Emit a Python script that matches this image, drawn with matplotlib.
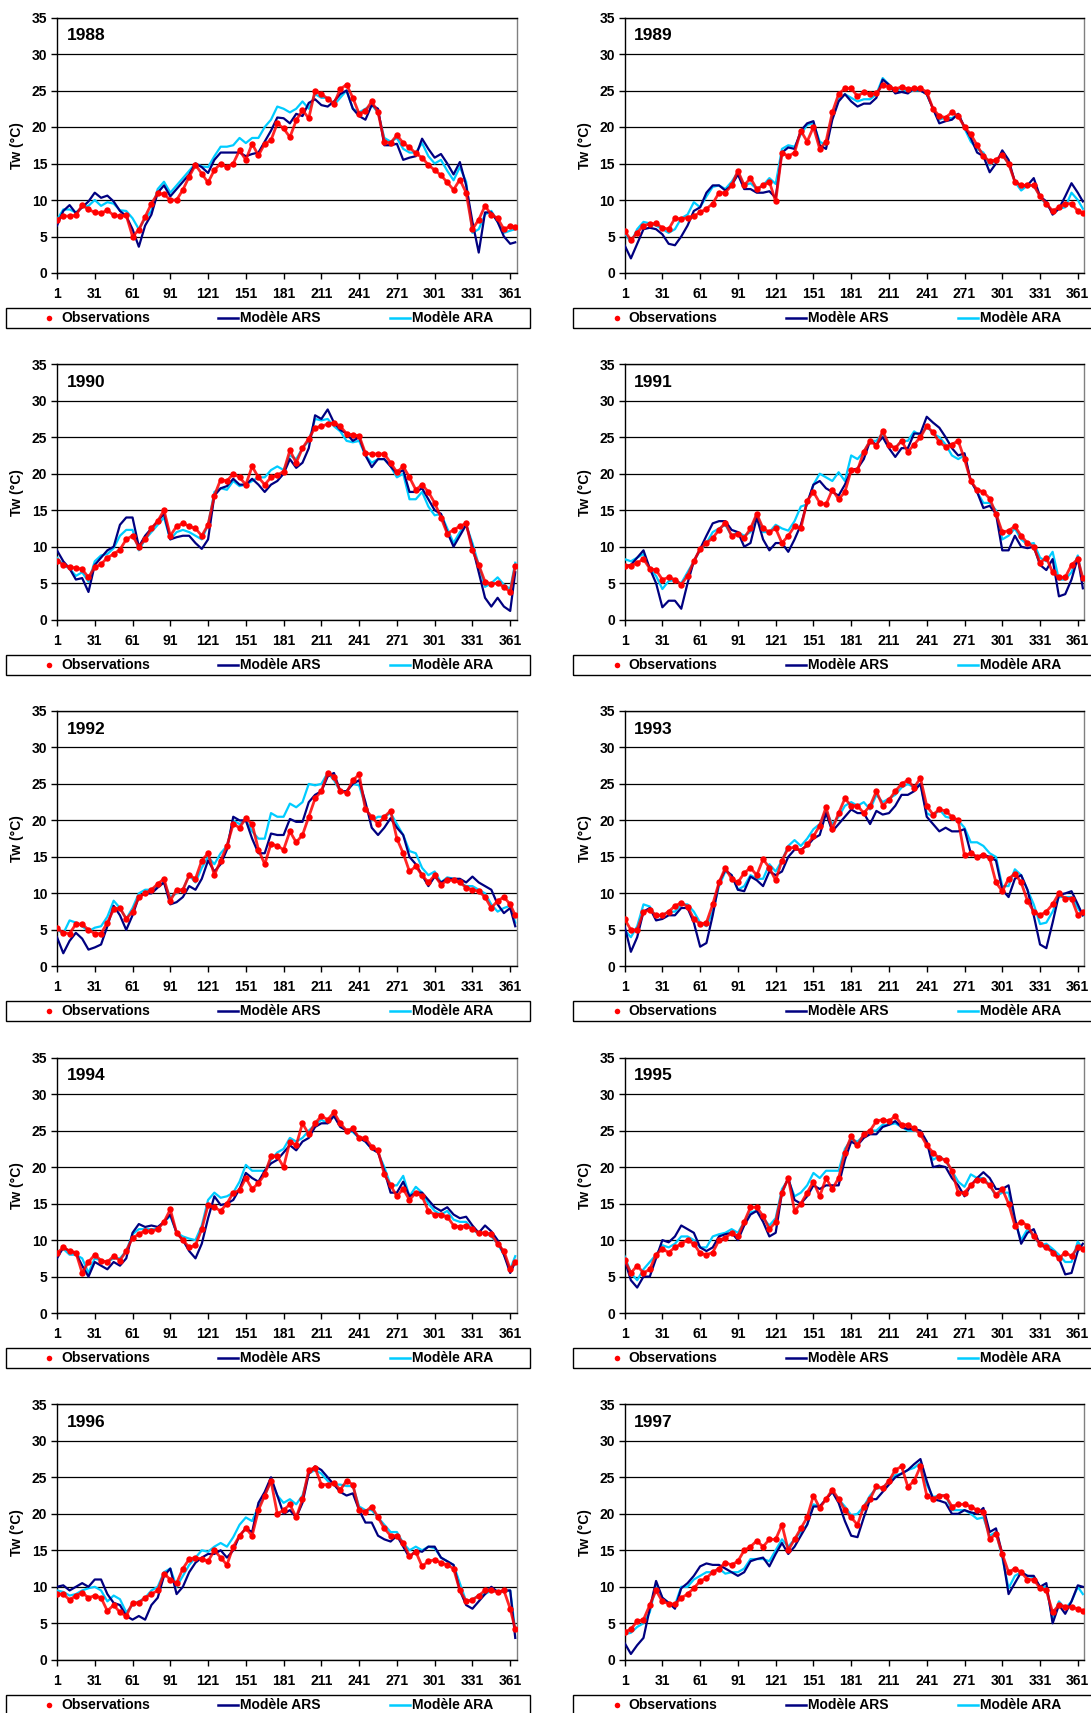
import matplotlib
matplotlib.use("Agg")
import matplotlib.pyplot as plt
from matplotlib.lines import Line2D
from matplotlib.patches import Rectangle

plt.rcParams['font.family'] = ['Liberation Sans', 'DejaVu Sans']
plt.rcParams['font.weight'] = 'bold'

# sampled days (every 5 days + last day)
days = list(range(1, 362, 5)) + [365]
xtick_days = list(range(1, 362, 30))
ytick_vals = list(range(0, 36, 5))
years = [1988, 1989, 1990, 1991, 1992, 1993, 1994, 1995, 1996, 1997]

obs_1988 = [7.3, 7.8, 7.8, 7.9, 9.3, 8.7, 8.3, 8.2, 8.6, 7.9,
            7.8, 7.9, 5.0, 5.9, 7.7, 9.5, 10.9, 10.8, 10.0, 10.0,
            11.4, 13.2, 14.8, 13.6, 12.4, 14.1, 15.0, 14.5, 15.0, 16.8,
            15.5, 17.7, 16.1, 17.7, 18.2, 20.5, 19.8, 18.6, 20.9, 22.3,
            21.2, 25.0, 24.5, 23.9, 23.2, 25.2, 25.8, 24.0, 21.8, 22.2,
            23.5, 22.0, 18.0, 17.8, 18.9, 17.8, 17.2, 16.4, 15.8, 14.8,
            14.1, 13.4, 12.4, 11.4, 12.8, 11.0, 6.0, 7.3, 9.2, 8.0,
            7.5, 6.0, 6.4, 6.3]
ars_1988 = [6.5, 8.5, 9.3, 8.2, 9.0, 9.8, 11.0, 10.3, 10.6, 9.8,
            8.5, 7.8, 6.0, 3.6, 6.5, 8.0, 11.0, 12.0, 10.5, 11.5,
            12.5, 13.5, 15.0, 14.5, 13.7, 15.5, 16.5, 16.5, 16.5, 16.5,
            16.0, 16.3, 16.5, 18.0, 19.5, 21.3, 21.2, 20.5, 21.8, 21.5,
            23.3, 23.8, 23.0, 22.8, 23.5, 24.5, 25.0, 22.5, 21.5, 21.0,
            23.0, 22.5, 17.5, 17.5, 17.7, 15.5, 15.8, 16.0, 18.4, 17.0,
            15.8, 16.3, 15.0, 13.5, 15.2, 12.0, 7.0, 2.8, 8.3, 8.3,
            7.0, 5.0, 4.0, 4.2]
ara_1988 = [7.3, 8.7, 8.7, 8.3, 9.0, 9.2, 10.0, 9.2, 9.7, 9.5,
            8.6, 8.5, 7.5, 6.0, 7.5, 8.5, 11.5, 12.5, 11.0, 12.0,
            13.0, 14.0, 15.0, 14.6, 14.5, 16.0, 17.3, 17.3, 17.5, 18.5,
            17.8, 18.5, 18.5, 20.0, 21.0, 22.8, 22.5, 22.0, 22.5, 23.5,
            22.5, 24.5, 24.0, 24.0, 23.0, 24.0, 25.0, 22.5, 22.0, 22.5,
            23.0, 22.0, 18.5, 18.0, 18.5, 17.0, 16.5, 16.5, 17.8, 16.0,
            15.0, 15.5, 14.0, 12.7, 14.5, 12.5, 5.5, 6.0, 8.0, 8.5,
            7.0, 5.5, 5.8, 6.0]

obs_1989 = [5.8, 4.5, 5.5, 6.5, 6.7, 6.8, 6.2, 6.0, 7.5, 7.4,
            7.6, 7.8, 8.3, 8.8, 9.5, 11.0, 11.0, 12.0, 14.0, 12.0,
            13.0, 11.5, 12.0, 12.5, 9.8, 16.5, 16.0, 16.5, 19.5, 18.0,
            20.0, 17.0, 18.0, 22.0, 24.5, 25.3, 25.3, 24.2, 24.8, 24.5,
            24.6, 25.8, 25.5, 25.2, 25.5, 25.2, 25.3, 25.3, 24.8, 22.5,
            21.5, 21.3, 22.0, 21.5, 20.0, 19.0, 17.5, 16.0, 15.3, 15.5,
            16.2, 15.0, 12.5, 12.0, 12.0, 12.0, 10.5, 9.5, 8.5, 9.0,
            9.5, 9.5, 8.5, 8.2]
ars_1989 = [3.8, 2.0, 4.0, 6.0, 6.2, 6.0, 5.3, 4.0, 3.8, 5.0,
            6.5, 8.5, 9.0, 11.0, 12.0, 12.0, 11.3, 12.0, 13.5, 11.5,
            11.5, 11.0, 11.0, 11.2, 10.3, 16.5, 17.2, 17.0, 19.5, 20.5,
            20.8, 17.5, 17.0, 21.0, 23.5, 24.5, 23.5, 22.8, 23.2, 23.2,
            24.0, 26.5, 25.8, 24.6, 24.8, 24.6, 25.3, 25.0, 24.5, 22.5,
            20.5, 20.8, 21.0, 21.8, 20.0, 18.5, 16.5, 16.0, 13.8, 15.0,
            16.8, 15.5, 12.5, 12.0, 12.0, 13.0, 10.5, 9.8, 8.0, 8.8,
            10.5, 12.3, 11.0, 9.8]
ara_1989 = [5.5, 4.2, 6.0, 7.0, 6.8, 6.5, 6.0, 5.5, 6.0, 7.5,
            8.0, 9.7, 9.0, 10.5, 11.8, 12.0, 11.5, 12.5, 13.8, 12.0,
            12.3, 11.5, 12.0, 13.0, 12.2, 17.0, 17.5, 17.3, 19.0, 20.3,
            20.5, 18.0, 17.5, 21.5, 23.8, 24.5, 24.0, 23.5, 23.8, 23.8,
            24.5, 26.7, 25.8, 25.0, 25.2, 24.8, 25.0, 25.0, 24.5, 22.5,
            21.0, 21.3, 21.2, 21.8, 19.8, 18.0, 17.0, 16.5, 14.8, 15.5,
            16.2, 15.0, 12.5, 11.3, 12.0, 12.0, 10.5, 9.3, 8.5, 8.8,
            9.0, 11.0, 10.0, 8.8]

obs_1990 = [8.1, 7.5, 7.2, 7.1, 6.9, 5.8, 7.2, 7.6, 8.5, 9.0,
            9.6, 11.0, 11.5, 10.0, 11.0, 12.5, 13.5, 15.0, 11.5, 12.8,
            13.2, 12.8, 12.5, 11.5, 13.0, 17.0, 19.2, 19.0, 20.0, 19.5,
            18.5, 21.0, 19.5, 18.5, 19.5, 19.8, 20.3, 23.2, 21.5, 23.5,
            24.8, 26.3, 26.5, 26.8, 27.0, 26.5, 25.5, 25.3, 25.2, 22.8,
            22.7, 22.7, 22.7, 21.5, 20.2, 21.0, 19.5, 17.8, 18.5, 17.5,
            16.0, 14.0, 11.8, 12.3, 12.8, 13.2, 9.5, 7.5, 5.2, 4.9,
            5.0, 4.5, 3.8, 7.3]
ars_1990 = [9.5, 8.0, 7.0, 5.5, 5.7, 3.8, 7.5, 8.5, 9.5, 10.0,
            13.0, 14.0, 14.0, 10.0, 11.5, 12.5, 13.5, 14.5, 11.0, 11.3,
            11.5, 11.5, 10.5, 9.7, 11.0, 17.0, 18.0, 18.3, 19.3, 18.5,
            18.5, 19.3, 18.5, 17.5, 18.5, 19.0, 20.0, 22.0, 20.8, 21.5,
            23.5, 28.0, 27.5, 28.8, 27.0, 26.0, 25.5, 24.5, 25.0, 22.5,
            20.9, 22.0, 22.0, 21.0, 20.0, 20.5, 17.5, 17.5, 18.0, 16.5,
            15.0, 14.5, 12.0, 10.0, 11.5, 13.0, 10.0, 6.5, 3.0, 1.8,
            3.0, 1.8, 1.2, 6.5]
ara_1990 = [8.5, 7.5, 7.0, 6.0, 6.5, 5.2, 8.0, 8.8, 9.0, 9.8,
            11.5, 12.3, 12.3, 9.5, 11.0, 12.0, 13.0, 14.0, 11.0, 12.0,
            12.3, 12.0, 11.5, 11.0, 13.0, 17.5, 18.0, 17.8, 19.0, 18.3,
            18.5, 19.0, 19.5, 19.5, 20.5, 21.0, 20.5, 22.5, 22.0, 23.5,
            24.5, 27.5, 27.3, 27.5, 26.5, 25.8, 24.5, 24.3, 24.5, 22.5,
            21.5, 22.0, 22.0, 21.0, 19.5, 20.0, 16.5, 16.5, 17.5, 15.5,
            14.3, 14.5, 12.5, 10.5, 12.0, 13.0, 10.5, 7.5, 4.5, 5.0,
            5.8, 4.8, 4.2, 7.8]

obs_1991 = [7.3, 7.4, 7.8, 8.3, 7.0, 6.8, 5.5, 5.8, 5.5, 4.8,
            6.0, 8.0, 9.7, 10.5, 11.2, 12.3, 13.3, 11.5, 11.8, 11.2,
            12.5, 14.5, 12.5, 12.0, 12.5, 10.5, 11.5, 12.8, 12.5, 16.3,
            17.5, 16.0, 15.8, 17.8, 16.5, 17.5, 20.5, 20.5, 23.0, 24.5,
            23.8, 25.8, 24.0, 23.5, 24.5, 23.0, 24.0, 25.0, 26.5, 25.7,
            24.3, 23.7, 24.0, 24.5, 22.0, 19.0, 17.8, 17.5, 16.6, 14.5,
            12.0, 12.2, 12.8, 11.5, 10.5, 10.0, 7.8, 8.5, 6.5, 5.8,
            5.8, 7.5, 8.3, 5.7]
ars_1991 = [7.3, 7.5, 8.5, 9.5, 7.0, 5.0, 1.7, 2.6, 2.6, 1.5,
            5.0, 8.0, 9.7, 11.5, 13.2, 13.5, 13.5, 12.3, 12.0, 10.0,
            10.5, 14.0, 11.0, 9.5, 10.5, 10.5, 9.3, 11.0, 13.0, 16.0,
            18.5, 19.0, 18.0, 17.5, 17.0, 18.5, 20.5, 20.7, 22.0, 24.5,
            24.0, 25.0, 23.5, 22.3, 23.5, 23.5, 25.5, 25.5, 27.8, 27.0,
            26.3, 25.0, 23.5, 22.5, 22.8, 19.0, 17.5, 15.3, 15.6, 14.5,
            9.5, 9.5, 11.5, 10.0, 9.8, 10.0, 7.5, 6.8, 8.3, 3.2,
            3.5, 5.5, 8.5, 4.3]
ara_1991 = [8.3, 8.0, 8.5, 9.0, 7.0, 6.0, 4.2, 5.3, 5.4, 5.0,
            6.5, 8.0, 9.5, 10.5, 12.0, 12.5, 13.0, 11.5, 12.0, 11.5,
            12.0, 14.5, 12.0, 12.0, 13.0, 12.5, 12.2, 13.5, 15.5, 15.8,
            18.5, 20.0, 19.5, 19.0, 20.2, 19.0, 22.5, 22.0, 23.0, 24.5,
            24.5, 25.5, 24.0, 23.5, 24.5, 24.5, 25.8, 25.2, 26.5, 25.5,
            25.0, 24.0, 22.5, 22.0, 22.5, 19.0, 17.5, 16.0, 16.0, 15.0,
            11.0, 11.5, 12.5, 11.0, 10.3, 10.5, 8.5, 8.0, 9.3, 5.5,
            5.5, 6.5, 8.8, 5.3]

obs_1992 = [5.2, 4.6, 4.5, 5.8, 5.8, 5.0, 4.5, 4.5, 6.0, 7.8,
            8.0, 6.5, 7.5, 9.5, 10.0, 10.5, 11.3, 12.0, 9.0, 10.5,
            10.5, 12.5, 12.0, 14.5, 15.5, 12.5, 14.5, 16.5, 19.5, 19.0,
            20.3, 19.5, 16.0, 14.0, 16.8, 16.5, 16.0, 18.5, 17.0, 18.0,
            20.5, 23.0, 24.0, 26.5, 26.0, 24.0, 23.8, 25.5, 26.3, 21.5,
            20.5, 19.5, 20.5, 21.3, 17.5, 15.5, 13.0, 13.7, 12.5, 11.5,
            12.5, 11.2, 11.8, 11.8, 11.5, 10.8, 10.5, 10.3, 9.5, 8.0,
            9.0, 9.5, 8.5, 7.0]
ars_1992 = [4.0, 1.8, 3.5, 4.6, 3.8, 2.3, 2.6, 3.0, 5.5, 8.3,
            7.0, 5.0, 7.0, 9.5, 10.0, 10.0, 10.8, 11.5, 8.5, 8.8,
            9.5, 11.0, 10.5, 12.0, 14.5, 13.0, 14.0, 16.0, 20.5, 20.0,
            20.0, 17.5, 15.5, 15.5, 18.2, 18.0, 18.0, 20.2, 19.8, 19.8,
            22.5, 23.5, 24.0, 26.0, 26.5, 24.0, 24.0, 25.0, 25.5, 22.5,
            19.0, 18.0, 19.0, 20.3, 19.0, 18.0, 15.0, 14.0, 12.5, 11.0,
            12.3, 11.5, 12.0, 12.0, 12.0, 11.5, 12.3, 11.5, 11.0, 10.5,
            8.5, 7.3, 8.0, 5.5]
ara_1992 = [5.0, 4.5, 6.3, 6.0, 5.5, 4.8, 5.3, 5.5, 6.8, 9.0,
            8.0, 6.5, 8.0, 10.0, 10.5, 10.5, 11.0, 11.5, 9.5, 10.0,
            10.5, 12.5, 11.5, 13.5, 15.0, 14.0, 15.5, 16.5, 20.0, 19.5,
            20.0, 18.5, 17.5, 17.5, 21.0, 20.5, 20.5, 22.3, 21.8, 22.5,
            25.0, 24.8, 25.0, 26.5, 25.5, 24.0, 24.0, 25.0, 24.8, 22.0,
            20.0, 20.5, 20.5, 21.0, 19.5, 18.0, 15.8, 15.5, 13.5, 12.5,
            13.0, 11.5, 12.2, 12.0, 11.5, 11.0, 11.0, 10.5, 10.0, 8.5,
            7.5, 8.0, 8.3, 6.0]

obs_1993 = [6.5, 5.0, 5.0, 7.5, 7.7, 7.0, 7.0, 7.5, 8.3, 8.7,
            8.2, 6.5, 5.8, 6.0, 8.5, 11.5, 13.5, 12.0, 11.5, 12.8,
            13.5, 12.5, 14.7, 13.5, 11.8, 14.5, 16.2, 16.3, 15.8, 16.7,
            17.8, 19.3, 21.8, 18.8, 21.0, 23.0, 22.0, 22.0, 21.0, 22.0,
            24.0, 22.0, 22.8, 24.0, 25.0, 25.5, 24.5, 25.8, 22.0, 20.8,
            21.5, 21.3, 20.5, 20.0, 15.2, 15.5, 15.0, 15.3, 14.8, 11.5,
            10.3, 12.0, 12.7, 11.5, 9.0, 7.5, 7.0, 7.5, 8.5, 10.0,
            9.3, 9.3, 7.0, 7.5]
ars_1993 = [5.5, 2.0, 4.0, 7.5, 8.0, 6.3, 6.5, 7.0, 7.0, 8.0,
            8.0, 6.0, 2.7, 3.2, 7.0, 11.5, 13.2, 12.5, 10.5, 10.3,
            12.3, 11.8, 11.0, 13.0, 12.5, 13.0, 15.0, 16.0, 16.0, 16.5,
            17.5, 18.0, 21.0, 18.5, 19.5, 20.5, 21.5, 21.0, 21.0, 19.5,
            21.3, 20.8, 21.0, 22.0, 23.5, 23.5, 24.0, 25.0, 20.5, 19.5,
            18.5, 19.0, 18.5, 18.5, 18.8, 15.5, 15.0, 15.3, 15.0, 14.5,
            10.5, 9.5, 12.0, 12.5, 10.5, 7.0, 3.0, 2.5, 6.0, 9.8,
            10.0, 10.3, 8.5, 7.0]
ara_1993 = [5.0, 4.0, 5.5, 8.5, 8.2, 6.8, 7.0, 7.5, 7.5, 8.5,
            8.5, 7.5, 6.0, 5.5, 7.5, 11.0, 13.0, 12.5, 10.5, 11.0,
            12.5, 12.0, 12.0, 14.0, 13.0, 14.5, 16.5, 17.3, 16.5, 17.5,
            18.8, 19.5, 21.3, 19.5, 20.5, 22.0, 22.5, 22.0, 22.5, 21.5,
            23.5, 22.5, 23.0, 23.5, 24.5, 25.0, 24.5, 25.0, 21.0, 20.5,
            21.5, 20.5, 20.3, 20.0, 19.0, 17.0, 17.0, 16.5, 15.5, 15.0,
            11.0, 11.0, 13.3, 12.5, 10.5, 8.5, 5.8, 6.0, 7.5, 9.5,
            9.5, 9.5, 8.0, 7.0]

obs_1994 = [8.2, 9.0, 8.5, 8.3, 5.5, 7.0, 8.0, 7.2, 7.0, 7.8,
            7.2, 8.5, 10.3, 10.8, 11.3, 11.2, 11.5, 12.5, 14.2, 11.0,
            10.0, 9.0, 9.3, 11.5, 14.8, 14.5, 14.0, 15.0, 16.5, 16.8,
            18.5, 17.0, 17.8, 19.0, 21.5, 21.5, 20.0, 23.5, 23.0, 26.0,
            24.5, 26.0, 27.0, 26.5, 27.5, 26.0, 25.0, 25.3, 24.0, 24.0,
            22.8, 22.3, 19.0, 17.5, 16.0, 17.0, 15.5, 16.5, 16.0, 14.0,
            13.5, 13.5, 13.2, 12.0, 11.8, 12.0, 11.5, 11.0, 11.0, 10.8,
            9.5, 8.5, 6.0, 7.0]
ars_1994 = [7.5, 9.0, 8.5, 8.2, 6.5, 5.0, 7.0, 6.5, 6.0, 7.0,
            6.5, 7.5, 11.0, 12.2, 11.8, 12.0, 11.8, 12.5, 13.5, 11.0,
            10.0, 8.5, 7.5, 9.5, 13.0, 16.0, 14.8, 15.0, 15.5, 17.0,
            19.2, 18.5, 18.0, 19.5, 20.5, 21.0, 22.0, 23.0, 22.3, 23.5,
            24.0, 25.5, 26.0, 26.0, 27.0, 25.5, 25.0, 25.0, 24.0, 23.5,
            22.5, 22.0, 19.5, 16.5, 16.5, 18.0, 16.0, 16.5, 16.5, 15.5,
            14.5, 14.0, 14.5, 13.5, 13.0, 13.2, 12.0, 11.0, 12.0, 11.2,
            10.0, 8.0, 5.5, 7.0]
ara_1994 = [8.0, 8.8, 8.0, 8.0, 7.5, 5.5, 7.5, 7.2, 7.0, 7.5,
            7.5, 8.5, 10.8, 11.5, 11.5, 11.5, 11.5, 12.5, 13.3, 11.0,
            10.5, 10.2, 10.0, 12.0, 15.5, 16.5, 15.8, 16.0, 16.5, 18.0,
            20.3, 19.5, 19.5, 19.5, 21.0, 22.0, 22.5, 24.0, 23.5, 24.0,
            25.0, 25.8, 26.5, 26.0, 27.0, 25.8, 25.0, 24.8, 24.0, 23.5,
            22.5, 22.0, 20.0, 17.5, 17.5, 18.8, 16.0, 17.3, 16.5, 15.0,
            14.0, 13.5, 14.0, 12.8, 12.5, 12.5, 11.5, 10.8, 11.0, 10.5,
            9.5, 8.0, 6.0, 7.8]

obs_1995 = [7.3, 5.5, 6.5, 5.5, 6.0, 8.0, 8.8, 8.3, 9.0, 9.5,
            10.0, 9.5, 8.2, 8.0, 8.3, 10.0, 10.3, 11.0, 10.5, 12.5,
            14.5, 14.5, 13.3, 11.5, 12.5, 16.5, 18.5, 14.0, 15.0, 16.5,
            18.0, 16.0, 18.5, 17.0, 18.5, 22.0, 24.2, 23.0, 24.5, 25.0,
            26.3, 26.5, 26.3, 27.0, 25.8, 25.8, 25.3, 24.5, 23.0, 22.0,
            21.2, 21.0, 19.5, 16.5, 16.5, 17.5, 18.3, 18.2, 17.5, 16.2,
            17.0, 15.0, 12.0, 12.5, 12.0, 10.5, 9.5, 9.0, 8.3, 7.5,
            8.3, 7.8, 9.0, 8.8]
ars_1995 = [7.3, 4.5, 3.5, 5.0, 5.0, 7.5, 10.0, 9.7, 10.5, 12.0,
            11.5, 11.0, 9.0, 8.5, 9.0, 10.5, 10.8, 11.0, 10.0, 12.0,
            13.5, 14.0, 12.5, 10.5, 11.0, 16.5, 18.5, 15.5, 15.0, 16.0,
            17.5, 17.0, 17.5, 17.5, 17.5, 21.0, 23.5, 23.0, 24.0, 24.5,
            24.5, 25.5, 25.8, 26.3, 25.5, 25.2, 25.2, 25.0, 23.5, 20.0,
            20.2, 20.0, 18.5, 17.5, 16.0, 17.5, 18.5, 19.3, 18.5, 17.0,
            17.0, 17.5, 13.0, 9.5, 11.0, 11.5, 9.3, 9.0, 8.5, 7.5,
            5.3, 5.5, 8.5, 9.5]
ara_1995 = [7.8, 5.5, 4.5, 6.0, 7.0, 8.0, 9.3, 9.0, 9.5, 10.5,
            10.5, 10.0, 9.0, 9.0, 10.5, 10.8, 11.0, 11.5, 11.0, 12.5,
            13.8, 14.0, 13.0, 12.0, 13.0, 17.0, 18.3, 16.0, 16.5, 17.5,
            19.2, 18.5, 19.5, 19.5, 19.5, 22.5, 23.8, 23.5, 24.3, 25.0,
            25.0, 25.8, 25.8, 26.0, 25.5, 25.0, 25.0, 24.8, 23.3, 21.0,
            21.5, 20.8, 19.5, 18.0, 17.3, 19.0, 18.5, 18.5, 17.5, 16.0,
            16.5, 16.5, 12.5, 10.0, 11.5, 10.5, 9.3, 9.5, 8.8, 8.0,
            7.0, 7.0, 9.8, 8.8]

obs_1996 = [9.0, 9.0, 8.2, 8.8, 9.2, 8.5, 8.8, 8.5, 6.7, 7.5,
            6.5, 6.0, 7.8, 7.8, 8.5, 9.0, 9.5, 11.8, 11.0, 10.5,
            12.5, 13.8, 14.0, 13.8, 13.5, 15.0, 14.0, 13.0, 15.5, 17.0,
            18.0, 17.0, 20.5, 22.5, 24.5, 20.0, 20.5, 21.3, 19.5, 22.0,
            26.0, 26.3, 24.0, 24.0, 24.2, 23.3, 24.5, 24.0, 20.5, 20.3,
            21.0, 19.5, 18.0, 17.0, 17.0, 16.0, 14.2, 14.8, 12.8, 13.5,
            13.7, 13.3, 13.0, 12.5, 9.5, 8.0, 8.2, 8.8, 9.5, 9.5,
            9.3, 9.5, 7.0, 4.2]
ars_1996 = [10.0, 10.2, 9.5, 10.0, 10.5, 10.0, 11.0, 11.0, 9.0, 7.8,
            7.5, 6.0, 5.5, 6.0, 5.5, 7.5, 8.5, 11.5, 12.5, 9.0,
            10.0, 12.0, 13.3, 14.0, 14.5, 14.5, 15.0, 14.0, 15.0, 17.0,
            18.0, 17.5, 21.5, 23.0, 25.0, 22.5, 20.0, 20.5, 19.5, 21.5,
            25.5, 26.5, 26.0, 25.0, 24.0, 23.0, 22.5, 22.8, 20.5, 18.8,
            18.8, 17.0, 16.5, 16.2, 17.0, 15.5, 14.0, 15.0, 14.8, 15.5,
            15.5, 14.0, 13.5, 13.0, 9.5, 7.5, 7.0, 8.0, 9.0, 10.0,
            9.3, 9.5, 9.5, 3.0]
ara_1996 = [9.5, 9.3, 8.8, 9.0, 9.5, 9.8, 10.0, 9.5, 8.0, 8.8,
            8.3, 6.5, 7.5, 8.0, 8.5, 9.5, 10.0, 12.0, 12.5, 10.0,
            11.5, 13.0, 14.0, 15.0, 14.8, 15.5, 16.0, 15.5, 16.8, 18.5,
            19.5, 19.0, 21.0, 22.5, 24.5, 22.5, 21.5, 22.0, 21.3, 22.5,
            25.5, 26.0, 25.5, 24.5, 24.0, 24.0, 23.8, 23.8, 21.0, 20.5,
            20.5, 19.5, 18.5, 17.5, 17.5, 16.0, 15.0, 15.5, 15.0, 15.5,
            15.3, 14.0, 13.5, 13.0, 10.5, 8.0, 8.3, 8.8, 9.0, 9.5,
            9.3, 9.3, 9.5, 4.0]

obs_1997 = [3.8, 4.2, 5.3, 5.5, 7.5, 9.5, 8.0, 7.7, 7.6, 8.5,
            9.0, 9.8, 10.8, 11.2, 12.0, 12.5, 13.3, 13.0, 13.5, 15.0,
            15.5, 16.3, 15.5, 16.5, 16.5, 18.5, 15.0, 16.5, 18.0, 19.5,
            22.5, 20.8, 22.0, 23.3, 22.0, 20.5, 19.5, 18.5, 21.0, 22.0,
            23.8, 23.5, 24.5, 26.0, 26.5, 23.7, 24.5, 26.5, 22.5, 22.0,
            22.5, 22.5, 21.0, 21.3, 21.3, 21.0, 20.5, 20.3, 16.5, 17.3,
            14.5, 12.0, 12.5, 12.0, 11.0, 11.0, 9.8, 9.5, 6.5, 7.5,
            7.3, 7.2, 7.0, 6.7]
ars_1997 = [2.3, 0.8, 2.0, 3.0, 7.0, 10.8, 8.5, 7.8, 7.0, 9.8,
            10.5, 11.5, 12.8, 13.2, 13.0, 13.0, 12.5, 12.0, 11.5, 12.0,
            13.5, 13.8, 14.0, 12.8, 14.5, 16.0, 14.5, 15.5, 17.0, 18.5,
            21.0, 21.0, 22.0, 23.0, 21.5, 19.0, 17.0, 16.8, 19.5, 22.0,
            22.0, 23.0, 24.0, 25.0, 25.5, 26.0, 26.8, 27.5, 24.5, 22.0,
            21.8, 21.5, 20.0, 20.0, 20.5, 20.2, 20.0, 20.8, 17.5, 18.0,
            14.5, 9.0, 10.5, 12.0, 11.5, 11.5, 10.0, 10.5, 5.0, 7.5,
            6.3, 8.0, 10.2, 10.0]
ara_1997 = [3.5, 3.7, 4.5, 5.0, 6.5, 10.3, 8.5, 7.8, 7.5, 10.0,
            10.0, 11.0, 11.5, 12.0, 12.0, 12.5, 11.8, 12.0, 12.0, 12.5,
            13.8, 13.8, 13.8, 13.5, 15.0, 16.5, 15.5, 16.5, 17.5, 18.5,
            21.3, 21.0, 22.0, 23.0, 22.0, 21.0, 19.8, 20.0, 21.0, 22.5,
            23.5, 23.5, 24.5, 25.3, 25.5, 26.0, 26.3, 27.0, 24.0, 22.3,
            22.5, 22.5, 20.5, 20.5, 20.5, 20.0, 19.3, 19.5, 17.0, 17.5,
            14.0, 9.8, 11.5, 12.0, 11.5, 11.3, 10.0, 10.0, 5.5, 8.0,
            7.0, 8.0, 10.0, 9.0]

panels = [
    (1988, obs_1988, ars_1988, ara_1988),
    (1989, obs_1989, ars_1989, ara_1989),
    (1990, obs_1990, ars_1990, ara_1990),
    (1991, obs_1991, ars_1991, ara_1991),
    (1992, obs_1992, ars_1992, ara_1992),
    (1993, obs_1993, ars_1993, ara_1993),
    (1994, obs_1994, ars_1994, ara_1994),
    (1995, obs_1995, ars_1995, ara_1995),
    (1996, obs_1996, ars_1996, ara_1996),
    (1997, obs_1997, ars_1997, ara_1997),
]

RED = '#FF0000'
NAVY = '#000080'
CYAN = '#00CCFF'

W, H = 1091, 1713
fig = plt.figure(figsize=(W / 100, H / 100), dpi=100)

for i, (year, obs, ars, ara) in enumerate(panels):
    row, col = divmod(i, 2)
    x0 = 57 if col == 0 else 624.6
    dx = 0 if col == 0 else 567.8
    top = 17.5 + 346.7 * row
    ax = fig.add_axes([x0 / W, 1 - (top + 255.5) / H, 459.5 / W, 255.5 / H])

    ax.plot(days, ara, color=CYAN, lw=1.6, zorder=3)
    ax.plot(days, ars, color=NAVY, lw=1.6, zorder=4)
    # daily observations look like a thick dotted band
    ax.plot(days, obs, '-', color=RED, lw=2.0, alpha=0.85, zorder=5)
    ax.plot(days, obs, 'o', color=RED, ms=4.6, mec='none', zorder=6)

    ax.set_xlim(1, 366)
    ax.set_ylim(0, 35)
    ax.set_xticks(xtick_days)
    ax.set_yticks(ytick_vals)
    ax.tick_params(axis='both', labelsize=10, length=4, width=1, color='black')
    ax.tick_params(axis='x', pad=6)
    ax.tick_params(axis='y', pad=3)
    for lab in ax.get_xticklabels() + ax.get_yticklabels():
        lab.set_fontweight('bold')
    ax.yaxis.grid(True, color='black', lw=0.9)
    ax.set_axisbelow(True)
    for s in ['left', 'bottom', 'top']:
        ax.spines[s].set_color('black')
        ax.spines[s].set_linewidth(1)
    ax.spines['right'].set_color('#808080')
    ax.spines['right'].set_linewidth(1)

    ax.text(0.021, 0.928, str(year), transform=ax.transAxes, fontsize=12.5,
            fontweight='bold', ha='left', va='center')
    fig.text((17.5 + dx) / W, 1 - (top + 128) / H, 'Tw (°C)', rotation=90,
             fontsize=10, fontweight='bold', ha='center', va='center')

    # legend box under the plot
    ly = 308 + 346.7 * row
    fig.add_artist(Rectangle(((5.5 + dx) / W, 1 - (ly + 20) / H), 524.5 / W, 20 / H,
                             transform=fig.transFigure, fill=False,
                             edgecolor='black', lw=1))
    yc = 1 - (ly + 10) / H
    fig.add_artist(Line2D([(49 + dx) / W], [yc], transform=fig.transFigure,
                          marker='o', color=RED, ms=4, mec='none', ls='none'))
    fig.text((61 + dx) / W, yc, 'Observations', fontsize=10, fontweight='bold',
             ha='left', va='center')
    fig.add_artist(Line2D([(218 + dx) / W, (238 + dx) / W], [yc, yc],
                          transform=fig.transFigure, color=NAVY, lw=1.8))
    fig.text((240 + dx) / W, yc, 'Modèle ARS', fontsize=10, fontweight='bold',
             ha='left', va='center')
    fig.add_artist(Line2D([(390 + dx) / W, (410 + dx) / W], [yc, yc],
                          transform=fig.transFigure, color=CYAN, lw=1.8))
    fig.text((412 + dx) / W, yc, 'Modèle ARA', fontsize=10, fontweight='bold',
             ha='left', va='center')

fig.savefig('out.png', dpi=100, facecolor='white')
